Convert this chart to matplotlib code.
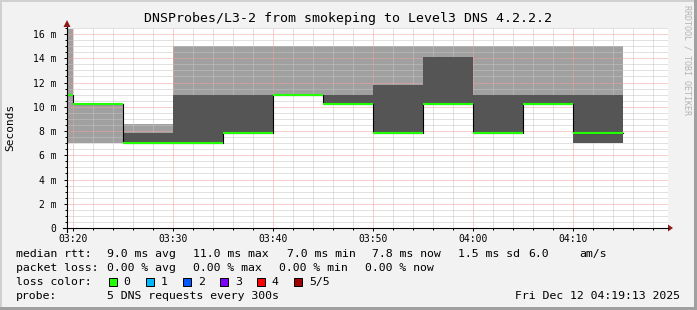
import numpy as np
import matplotlib
matplotlib.use('Agg')
from matplotlib import pyplot as plt
from matplotlib.patches import Rectangle, Polygon
from matplotlib.lines import Line2D
from matplotlib.ticker import MultipleLocator, FuncFormatter

# 5 minute intervals (start time), values in ms
starts = ['03:15', '03:20', '03:25', '03:30', '03:35', '03:40',
          '03:45', '03:50', '03:55', '04:00', '04:05', '04:10']
median = [11.0, 10.2, 7.0, 7.0, 7.8, 11.0, 10.2, 7.8, 10.2, 7.8, 10.2, 7.8]
outer_lo = [7.0, 7.0, 7.0, 7.0, 7.8, 11.0, 10.2, 7.8, 10.2, 7.8, 10.2, 7.0]
outer_hi = [16.4, 10.2, 8.6, 15.0, 15.0, 15.0, 15.0, 15.0, 15.0, 15.0, 15.0, 15.0]
inner_lo = [11.0, 10.2, 7.0, 7.0, 7.8, 11.0, 10.2, 7.8, 10.2, 7.8, 10.2, 7.0]
inner_hi = [11.0, 10.2, 7.8, 11.0, 11.0, 11.0, 11.0, 11.8, 14.1, 11.0, 11.0, 11.0]
step = 5

title = 'DNSProbes/L3-2 from smokeping to Level3 DNS 4.2.2.2'
rtt_stats = ['9.0 ms avg', '11.0 ms max', '7.0 ms min', '7.8 ms now', '1.5 ms sd', '6.0', 'am/s']
loss_stats = ['0.00 % avg', '0.00 % max', '0.00 % min', '0.00 % now']
loss_labels = ['0', '1', '2', '3', '4', '5/5']
loss_colors = ['#22ff00', '#00b8ff', '#0059ff', '#7e00ff', '#ff0000', '#a10000']
probe_txt = '5 DNS requests every 300s'
stamp = 'Fri Dec 12 04:19:13 2025'

W, H = 697, 310
plt.rcParams['font.family'] = 'DejaVu Sans Mono'


def mins(s):
    h, m = s.split(':')
    return int(h) * 60 + int(m) - 200  # minutes after 03:20


def fx(px):
    return px / W


def fy(py):
    return 1 - py / H


x0 = np.array([mins(s) for s in starts], dtype=float)
med = np.array(median)

fig = plt.figure(figsize=(W / 100, H / 100), dpi=100, facecolor='#f2f2f2')
ax = fig.add_axes([fx(67), fy(228), 601 / W, 200 / H])
ax.set_facecolor('white')

ax.bar(x0, np.array(outer_hi) - np.array(outer_lo), bottom=outer_lo, width=step,
       align='edge', color='#a0a0a0', lw=0, zorder=1)
ax.bar(x0, np.array(inner_hi) - np.array(inner_lo), bottom=inner_lo, width=step,
       align='edge', color='#555555', lw=0, zorder=2)
ax.step(np.append(x0, x0[-1] + step), np.append(med, med[-1]), where='post',
        color='black', lw=0.8, zorder=3)
ax.hlines(med, x0, x0 + step, color='#22ff00', lw=1.5, zorder=4)

ax.set_xlim(-0.63, 59.47)
ax.set_ylim(0, 16.5)

ax.xaxis.set_major_locator(MultipleLocator(10))
ax.xaxis.set_minor_locator(MultipleLocator(2))
ax.yaxis.set_major_locator(MultipleLocator(2))
ax.yaxis.set_minor_locator(MultipleLocator(0.5))
ax.xaxis.set_major_formatter(FuncFormatter(
    lambda v, p: '%02d:%02d' % ((200 + int(round(v))) // 60, (200 + int(round(v))) % 60)))
ax.yaxis.set_major_formatter(FuncFormatter(lambda v, p: '0' if v == 0 else '%d m' % v))

ax.grid(which='minor', color='#c4c4c4', lw=0.72, ls=(0, (1, 1)), zorder=5)
ax.grid(which='major', color='#f0a0a0', lw=0.72, ls=(0, (1, 1)), zorder=6)
ax.tick_params(which='both', direction='out', color='black', width=0.72, labelsize=7)
ax.tick_params(which='major', length=2.5)
ax.tick_params(which='minor', length=1.5)
ax.tick_params(axis='x', pad=2)
ax.tick_params(axis='y', pad=5)
for sp in ax.spines.values():
    sp.set_visible(False)

fig.text(fx(10.5), fy(127), 'Seconds', rotation=90, fontsize=8, ha='center', va='center')

# axes with arrows
fig.add_artist(Line2D([fx(63), fx(668)], [fy(228), fy(228)], color='black', lw=0.8))
fig.add_artist(Line2D([fx(67), fx(67)], [fy(232), fy(27)], color='black', lw=0.8))
fig.add_artist(Polygon([[fx(673), fy(228)], [fx(668), fy(224.5)], [fx(668), fy(231.5)]],
                       closed=True, color='#8b1a1a', lw=0))
fig.add_artist(Polygon([[fx(67), fy(20)], [fx(63.5), fy(27)], [fx(70.5), fy(27)]],
                       closed=True, color='#8b1a1a', lw=0))

fig.text(fx(348.5), fy(18.5), title, fontsize=9.5, ha='center', va='center')
fig.text(fx(687), fy(60), 'RRDTOOL / TOBI OETIKER', rotation=270, fontsize=6,
         color='#b4b4b4', ha='center', va='center')

lfs = 8.25
fig.text(fx(16), fy(254), 'median rtt:', fontsize=lfs, va='center')
for xp, s in zip([107.3, 193.3, 286.7, 372.3, 458.3, 528.3, 579.3], rtt_stats):
    fig.text(fx(xp), fy(254), s, fontsize=lfs, va='center')
fig.text(fx(16), fy(268), 'packet loss:', fontsize=lfs, va='center')
for xp, s in zip([107.3, 193.3, 279.3, 365], loss_stats):
    fig.text(fx(xp), fy(268), s, fontsize=lfs, va='center')
fig.text(fx(16), fy(282), 'loss color:', fontsize=lfs, va='center')
for i, (lab, col) in enumerate(zip(loss_labels, loss_colors)):
    bx = 108.5 + i * 37.1
    fig.add_artist(Rectangle((fx(bx), fy(286)), 8 / W, 8 / H, facecolor=col,
                             edgecolor='black', lw=0.72))
    fig.text(fx(bx + 15), fy(282), lab, fontsize=lfs, va='center')
fig.text(fx(16), fy(296), 'probe:', fontsize=lfs, va='center')
fig.text(fx(107.3), fy(296), probe_txt, fontsize=lfs, va='center')
fig.text(fx(680), fy(296), stamp, fontsize=lfs, va='center', ha='right')

# 3d-ish frame
fig.add_artist(Rectangle((0, fy(2)), 1, 2 / H, color='#d0d0d0', lw=0))
fig.add_artist(Rectangle((0, 0), 2 / W, 1, color='#d0d0d0', lw=0))
fig.add_artist(Rectangle((0, 0), 1, 3 / H, color='#a0a0a0', lw=0))
fig.add_artist(Rectangle((fx(694), 0), 3 / W, 1, color='#a0a0a0', lw=0))

fig.savefig('out.png', dpi=100, facecolor=fig.get_facecolor())
